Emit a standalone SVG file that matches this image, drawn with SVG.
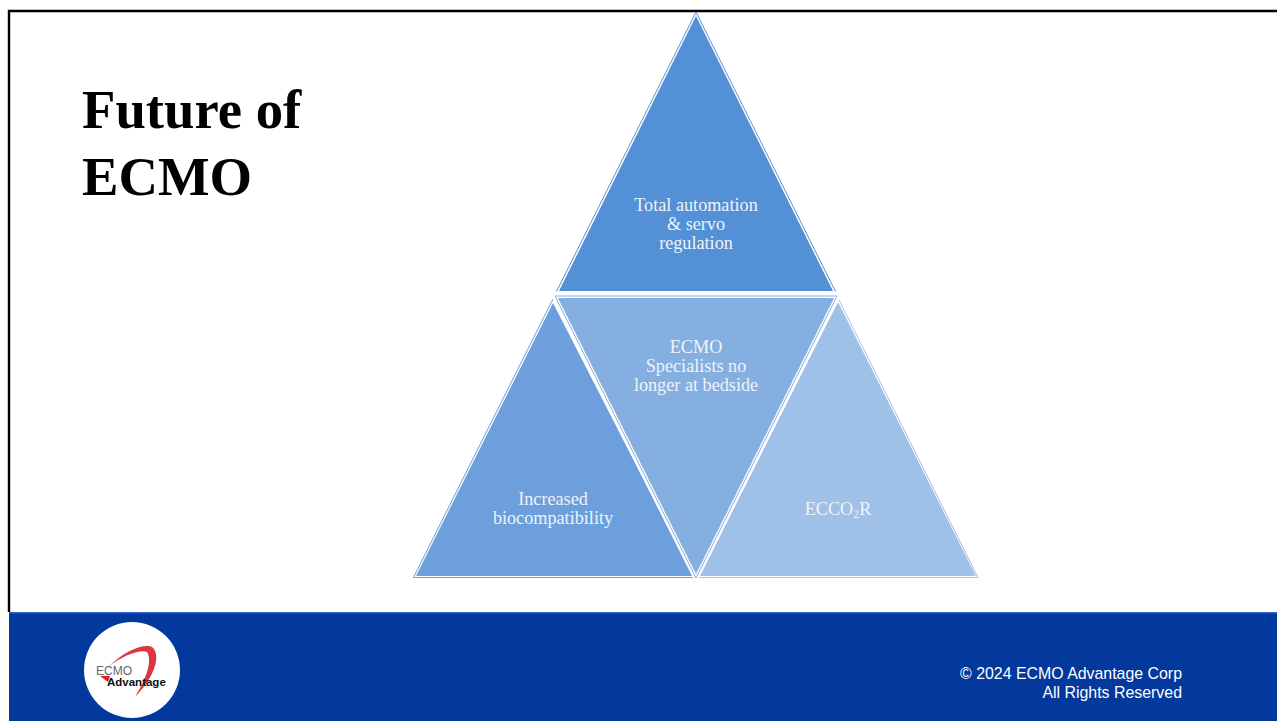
<svg xmlns="http://www.w3.org/2000/svg" width="1277" height="721" viewBox="0 0 1277 721">
<style>
.t{font-family:"Liberation Serif","Times New Roman",serif;font-size:18.2px;fill:#eef3fa;text-anchor:middle}
.edge{fill:none;stroke-width:1}
.foot{font-family:"Liberation Sans",Arial,sans-serif;font-size:15.9px;fill:#fff;text-anchor:end}
</style>
<rect width="1277" height="721" fill="#fff"/>
<path d="M9 612V11H1277" fill="none" stroke="#000" stroke-width="2.4"/>
<rect x="9" y="612" width="1268" height="109" fill="#03389c"/>
<rect x="9" y="612" width="1268" height="1.500" fill="#2f5fd0"/>
<text font-family="'Liberation Serif','Times New Roman',serif" font-weight="700" font-size="54.700" fill="#000"><tspan x="82" y="128">Future of</tspan><tspan x="82" y="195">ECMO</tspan></text>
<g id="node-top">
<polygon points="696,16 833,291 559,291" fill="#5490d6"/>
<path class="edge" style="stroke:#5490d6" d="M556.500 291.500L696 12L835.500 291.500"/>
<text class="t"><tspan x="696" y="211">Total automation</tspan><tspan x="696" y="230">&amp; servo</tspan><tspan x="696" y="249">regulation</tspan></text>
</g>
<g id="node-left">
<polygon points="553,303 693,576 416,576" fill="#6c9fdb"/>
<path class="edge" style="stroke:#6c9fdb" d="M553 299L413.500 577.500H693"/>
<text class="t"><tspan x="553" y="505">Increased</tspan><tspan x="553" y="524">biocompatibility</tspan></text>
</g>
<g id="node-right">
<polygon points="838,302 976,576 699,576" fill="#9fc0e7"/>
<path class="edge" style="stroke:#9fc0e7" d="M838 298L978 577.500"/>
<path d="M699 577.500H978" stroke="#a9c6ea" stroke-width="1" fill="none"/>
<text class="t" x="838" y="515">ECCO<tspan font-size="12" dy="3">2</tspan><tspan dy="-3">R</tspan></text>
</g>
<g id="node-center">
<polygon points="550,293 842,293 699,578 693,578" fill="#fff"/>
<polygon points="558,298 834,298 696,574" fill="#86afe1"/>
<path class="edge" style="stroke:#86afe1" d="M555 296H837L696 578Z"/>
<text class="t"><tspan x="696" y="353">ECMO</tspan><tspan x="696" y="372">Specialists no</tspan><tspan x="696" y="391">longer at bedside</tspan></text>
</g>
<g id="logo">
<circle cx="132" cy="670" r="48" fill="#fff"/>
<path d="M108 667C125 650 145 643 152 647C161 654 156 676 135 697C148 676 152 660 147 652C140 649 122 656 108 667Z" fill="#d8202c" opacity=".9"/>
<polygon points="100,676 110,676 108,682" fill="#d8202c"/>
<text x="96" y="675" font-family="'Liberation Sans',Arial,sans-serif" font-size="12" fill="#666">ECMO</text>
<text x="107" y="686" font-family="'Liberation Sans',Arial,sans-serif" font-size="11.500" font-weight="700" fill="#111">Advantage</text>
</g>
<g id="copyright"><text class="foot"><tspan x="1182" y="679">© 2024 ECMO Advantage Corp</tspan><tspan x="1182" y="698">All Rights Reserved</tspan></text></g>
<g id="connectors"/>
</svg>
